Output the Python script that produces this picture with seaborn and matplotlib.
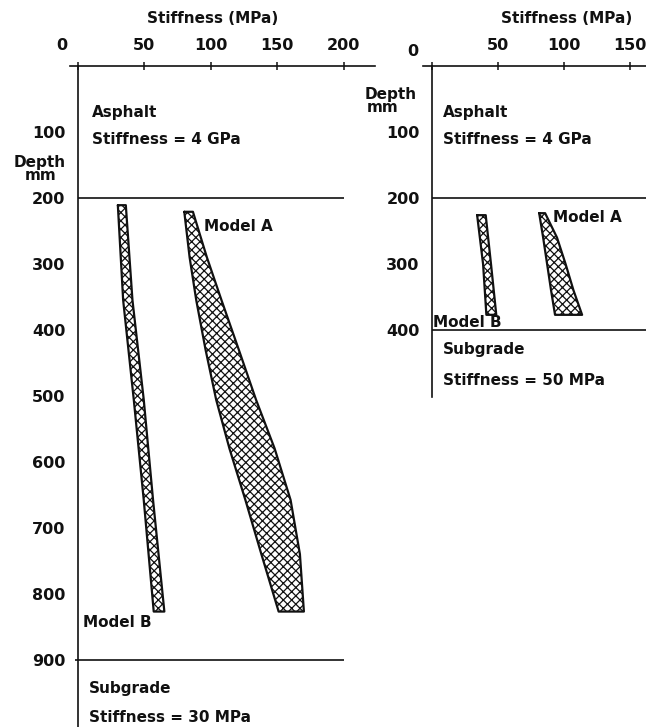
import matplotlib
matplotlib.use("Agg")
import matplotlib.pyplot as plt
import matplotlib.transforms as mtransforms
import seaborn as sns
import pandas as pd

sns.set_theme(style="white")
plt.rcParams["font.family"] = ["DejaVu Sans"]
plt.rcParams["font.weight"] = "bold"
plt.rcParams["hatch.linewidth"] = 0.9
plt.rcParams["hatch.color"] = "#1a1a1a"

# ---------------- data ----------------
x_ticks_left = [0, 50, 100, 150, 200]
y_ticks_left = [100, 200, 300, 400, 500, 600, 700, 800, 900]
x_ticks_right = [0, 50, 100, 150]
y_ticks_right = [100, 200, 300, 400]

# Left panel (subgrade 30 MPa)
left_A_depth = [221, 290, 355, 430, 506, 580, 658, 740, 827]
left_A_lo = [80, 84, 89, 96, 104, 114, 126, 138, 151]
left_A_hi = [86.5, 97, 108, 121, 134, 148, 160, 167, 170]

left_B_depth = [211, 355, 506, 658, 827]
left_B_lo = [30, 34, 42, 49.5, 57]
left_B_hi = [36, 41, 49.5, 56.5, 65]

left_layers = [200, 900]

# Right panel (subgrade 50 MPa)
right_A_depth = [223, 260, 300, 340, 377]
right_A_lo = [81, 84, 87, 90, 93]
right_A_hi = [85.5, 94.5, 101, 107, 113.5]

right_B_depth = [226, 300, 377]
right_B_lo = [34, 38.5, 41]
right_B_hi = [40.5, 44.5, 48.5]

right_layers = [200, 400]

FS = 11
INK = "#111111"

fig = plt.figure(figsize=(6.46, 7.27), dpi=100)
W, H = 646.0, 727.0
ax1 = fig.add_axes([70 / W, 0, 305 / W, 661 / H])
ax2 = fig.add_axes([423 / W, 1 - 397 / H, 223 / W, 331 / H])


def band(ax, depth, lo, hi):
    ax.fill_betweenx(depth, lo, hi, facecolor="white", edgecolor=INK,
                     hatch="xxxx", linewidth=0, zorder=2)
    xs = list(lo) + list(hi)[::-1] + [lo[0]]
    ys = list(depth) + list(depth)[::-1] + [depth[0]]
    df = pd.DataFrame({"x": xs, "y": ys, "o": range(len(xs))})
    sns.lineplot(data=df, x="x", y="y", sort=False, estimator=None,
                 color=INK, linewidth=1.6, ax=ax, legend=False, zorder=3)


def style_axes(ax, xlim, ylim, xticks, yticks, zero_dx, zero_dy):
    ax.set_xlim(*xlim)
    ax.set_ylim(*ylim)
    ax.set_facecolor("white")
    for s in ["right", "bottom"]:
        ax.spines[s].set_visible(False)
    ax.spines["left"].set_position(("data", 0))
    ax.spines["left"].set_bounds(0, ylim[0])
    for s in ["left", "top"]:
        ax.spines[s].set_color(INK)
        ax.spines[s].set_linewidth(1.2)
    ax.xaxis.tick_top()
    ax.set_xticks(xticks)
    ax.set_xticklabels([str(t) for t in xticks])
    ax.set_yticks(yticks)
    ax.set_yticklabels([str(t) for t in yticks])
    ax.tick_params(axis="x", direction="inout", length=6, width=1.1,
                   pad=6, labelsize=11.5, colors=INK)
    ax.tick_params(axis="y", direction="out", length=6, width=1.1,
                   pad=3, labelsize=11.5, colors=INK)
    ax.set_xlabel("")
    ax.set_ylabel("")
    lab0 = ax.get_xticklabels()[0]
    lab0.set_transform(lab0.get_transform() +
                       mtransforms.ScaledTranslation(zero_dx / 100, zero_dy / 100,
                                                     fig.dpi_scale_trans))


# ---------- left panel ----------
band(ax1, left_B_depth, left_B_lo, left_B_hi)
band(ax1, left_A_depth, left_A_lo, left_A_hi)
ax1.hlines(left_layers, [0, -2], [200, 200], color=INK, linewidth=1.2, zorder=1)
style_axes(ax1, (-6, 223.5), (1002, 0), x_ticks_left, y_ticks_left, -16, 0)

ax1.text(0.466, 1.0726, "Stiffness (MPa)", transform=ax1.transAxes,
         ha="center", va="center", fontsize=FS, color=INK)
ax1.text(10.5, 71, "Asphalt", fontsize=FS, va="center", ha="left", color=INK)
ax1.text(10.5, 111, "Stiffness = 4 GPa", fontsize=FS, va="center", ha="left", color=INK)
ax1.text(8.3, 944, "Subgrade", fontsize=FS, va="center", ha="left", color=INK)
ax1.text(8.3, 988, "Stiffness = 30 MPa", fontsize=FS, va="center", ha="left", color=INK)
ax1.text(95, 244, "Model A", fontsize=FS, va="center", ha="left", color=INK)
ax1.text(3.8, 844, "Model B", fontsize=FS, va="center", ha="left", color=INK)
fig.text(40 / W, 1 - 162 / H, "Depth", fontsize=FS, ha="center", va="center", color=INK)
fig.text(41 / W, 1 - 176 / H, "mm", fontsize=FS, ha="center", va="center", color=INK)

# ---------- right panel ----------
band(ax2, right_B_depth, right_B_lo, right_B_hi)
band(ax2, right_A_depth, right_A_lo, right_A_hi)
ax2.hlines(right_layers, 0, 170, color=INK, linewidth=1.2, zorder=1)
style_axes(ax2, (-7, 161.9), (501.5, 0), x_ticks_right, y_ticks_right, -19, -5)

ax2.text(0.646, 1.145, "Stiffness (MPa)", transform=ax2.transAxes,
         ha="center", va="center", fontsize=FS, color=INK)
ax2.text(8.3, 71, "Asphalt", fontsize=FS, va="center", ha="left", color=INK)
ax2.text(8.3, 112, "Stiffness = 4 GPa", fontsize=FS, va="center", ha="left", color=INK)
ax2.text(8.3, 430, "Subgrade", fontsize=FS, va="center", ha="left", color=INK)
ax2.text(8.3, 476, "Stiffness = 50 MPa", fontsize=FS, va="center", ha="left", color=INK)
ax2.text(91.7, 230, "Model A", fontsize=FS, va="center", ha="left", color=INK)
ax2.text(0.8, 389, "Model B", fontsize=FS, va="center", ha="left", color=INK)
fig.text(391 / W, 1 - 94 / H, "Depth", fontsize=FS, ha="center", va="center", color=INK)
fig.text(383 / W, 1 - 108 / H, "mm", fontsize=FS, ha="center", va="center", color=INK)

fig.savefig("out.png", dpi=100, facecolor="white")
